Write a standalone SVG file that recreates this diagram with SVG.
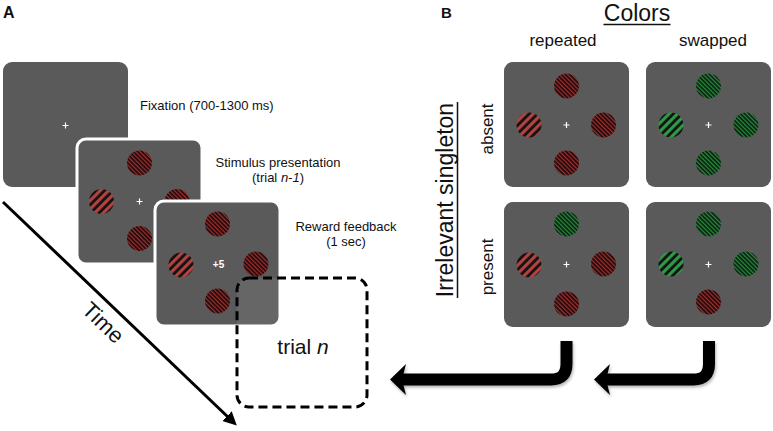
<svg xmlns="http://www.w3.org/2000/svg" width="773" height="431" viewBox="0 0 773 431">
<style>
text{font-family:"Liberation Sans",Arial,Helvetica,sans-serif;fill:#111}
.scr{fill:#5a5a5a}
.scrw{fill:#5a5a5a;stroke:#fff;stroke-width:3}
.cross{stroke:#fff;stroke-width:1.2}
.lbl{font-size:13px}
.hdr{font-size:17px}
.tr{fill:url(#tRed)}
.tg{fill:url(#tGreen)}
.dr{fill:url(#dRed)}
.dg{fill:url(#dGreen)}
.big{fill:none;stroke:#000;stroke-width:12}
</style>
<defs>
<pattern id="tRed" width="6" height="6" patternUnits="userSpaceOnUse" patternTransform="rotate(45)"><rect width="6" height="6" fill="#111"/><rect width="3.2" height="6" fill="#b24240"/></pattern>
<pattern id="tGreen" width="6" height="6" patternUnits="userSpaceOnUse" patternTransform="rotate(45)"><rect width="6" height="6" fill="#111"/><rect width="3.2" height="6" fill="#2e9a48"/></pattern>
<pattern id="dRed" width="3" height="3" patternUnits="userSpaceOnUse" patternTransform="rotate(-45)"><rect width="3" height="3" fill="#1e0707"/><rect width="1.3" height="3" fill="#9a3232"/></pattern>
<pattern id="dGreen" width="3" height="3" patternUnits="userSpaceOnUse" patternTransform="rotate(-45)"><rect width="3" height="3" fill="#071e0c"/><rect width="1.3" height="3" fill="#2e8a42"/></pattern>
<marker id="ah" viewBox="0 0 10 10" refX="2" refY="5" markerWidth="4.5" markerHeight="4.5" orient="auto" markerUnits="strokeWidth"><path d="M0,0 L10,5 L0,10 z" fill="#000"/></marker>
<filter id="sh" x="-10%" y="-20%" width="130%" height="150%"><feDropShadow dx="1" dy="2" stdDeviation="1.5" flood-color="#000" flood-opacity="0.3"/></filter>
</defs>

<g id="label-A"><text x="3" y="18" style="font-size:16px;font-weight:bold">A</text></g>
<g id="label-B"><text x="441" y="18" style="font-size:15px;font-weight:bold">B</text></g>

<g id="fixation">
<rect class="scr" x="3" y="62" width="125" height="125" rx="9"/>
<path class="cross" d="M62.5,125.5h6M65.5,122.5v6"/>
<text class="lbl" x="140" y="110">Fixation (700-1300 ms)</text>
</g>

<g id="stimulus">
<rect class="scrw" x="77" y="139" width="125" height="125" rx="9"/>
<circle class="dr" cx="139.5" cy="163" r="12.5"/>
<circle class="tr" cx="101.5" cy="201.5" r="12.5"/>
<circle class="dr" cx="177" cy="201.5" r="12.5"/>
<circle class="dr" cx="139.5" cy="238.5" r="12.5"/>
<path class="cross" d="M136.5,201.5h6M139.5,198.5v6"/>
<text class="lbl" x="278" y="167" text-anchor="middle">Stimulus presentation</text>
<text class="lbl" x="278" y="182" text-anchor="middle">(trial <tspan font-style="italic">n-1</tspan>)</text>
</g>

<g id="reward">
<rect class="scrw" x="155" y="201" width="125" height="125" rx="9"/>
<circle class="dr" cx="217.5" cy="224" r="12.5"/>
<circle class="tr" cx="181" cy="265" r="12.5"/>
<circle class="dr" cx="256" cy="264" r="12.5"/>
<circle class="dr" cx="217.5" cy="301" r="12.5"/>
<text x="218.5" y="268" text-anchor="middle" style="font-size:10px;font-weight:bold;fill:#fff">+5</text>
<text class="lbl" x="346" y="231" text-anchor="middle">Reward feedback</text>
<text class="lbl" x="346" y="246" text-anchor="middle">(1 sec)</text>
</g>

<g id="trial-n">
<rect x="237" y="278" width="130" height="129" rx="12" fill="#fff" fill-opacity="0.08" stroke="#000" stroke-width="3" stroke-dasharray="9 5"/>
<text x="303" y="354" text-anchor="middle" style="font-size:21px">trial <tspan font-style="italic">n</tspan></text>
</g>

<g id="time">
<line x1="3" y1="202" x2="229" y2="418" stroke="#000" stroke-width="3" marker-end="url(#ah)"/>
<text transform="translate(98,328) rotate(44)" text-anchor="middle" style="font-size:22px">Time</text>
</g>

<g id="headers">
<text x="637" y="21" text-anchor="middle" style="font-size:23px">Colors</text>
<line x1="603.5" y1="24.5" x2="670.5" y2="24.5" stroke="#111" stroke-width="1.5"/>
<text class="hdr" x="563" y="46" text-anchor="middle">repeated</text>
<text class="hdr" x="713" y="46" text-anchor="middle">swapped</text>
<text transform="translate(453,200) rotate(-90)" text-anchor="middle" style="font-size:23px">Irrelevant singleton</text>
<line x1="457.5" y1="102" x2="457.5" y2="298" stroke="#111" stroke-width="1.5"/>
<text class="hdr" transform="translate(493,129) rotate(-90)" text-anchor="middle">absent</text>
<text class="hdr" transform="translate(493,267) rotate(-90)" text-anchor="middle">present</text>
</g>

<g id="absent-repeated">
<rect class="scr" x="504" y="62" width="125" height="125" rx="9"/>
<circle class="dr" cx="566.5" cy="86" r="12.5"/>
<circle class="tr" cx="529" cy="125" r="12.5"/>
<circle class="dr" cx="603.5" cy="125" r="12.5"/>
<circle class="dr" cx="566.5" cy="163" r="12.5"/>
<path class="cross" d="M563.5,125h6M566.5,122v6"/>
</g>

<g id="absent-swapped">
<rect class="scr" x="646" y="62" width="125" height="125" rx="9"/>
<circle class="dg" cx="708.5" cy="86" r="12.5"/>
<circle class="tg" cx="671" cy="125" r="12.5"/>
<circle class="dg" cx="746" cy="125" r="12.5"/>
<circle class="dg" cx="708.5" cy="163" r="12.5"/>
<path class="cross" d="M705.5,125h6M708.5,122v6"/>
</g>

<g id="present-repeated">
<rect class="scr" x="504" y="202" width="125" height="125" rx="9"/>
<circle class="dg" cx="566.5" cy="224" r="12.5"/>
<circle class="tr" cx="529" cy="265" r="12.5"/>
<circle class="dr" cx="603.5" cy="264" r="12.5"/>
<circle class="dr" cx="566.5" cy="304" r="12.5"/>
<path class="cross" d="M563.5,264.5h6M566.5,261.5v6"/>
</g>

<g id="present-swapped">
<rect class="scr" x="646" y="202" width="125" height="125" rx="9"/>
<circle class="dg" cx="708.5" cy="224" r="12.5"/>
<circle class="tg" cx="671" cy="264" r="12.5"/>
<circle class="dg" cx="746" cy="264" r="12.5"/>
<circle class="dr" cx="708.5" cy="302" r="12.5"/>
<path class="cross" d="M705.5,264.5h6M708.5,261.5v6"/>
</g>

<g id="connectors" filter="url(#sh)">
<path class="big" d="M566.5,341 V364 Q566.5,379.5 551,379.5 H402"/>
<polygon points="390,379.5 406,364 402,379.5 406,395" fill="#000"/>
<path class="big" d="M709,341 V364 Q709,379.5 693.5,379.5 H606"/>
<polygon points="594,379.5 610,364 606,379.5 610,395" fill="#000"/>
</g>
</svg>
